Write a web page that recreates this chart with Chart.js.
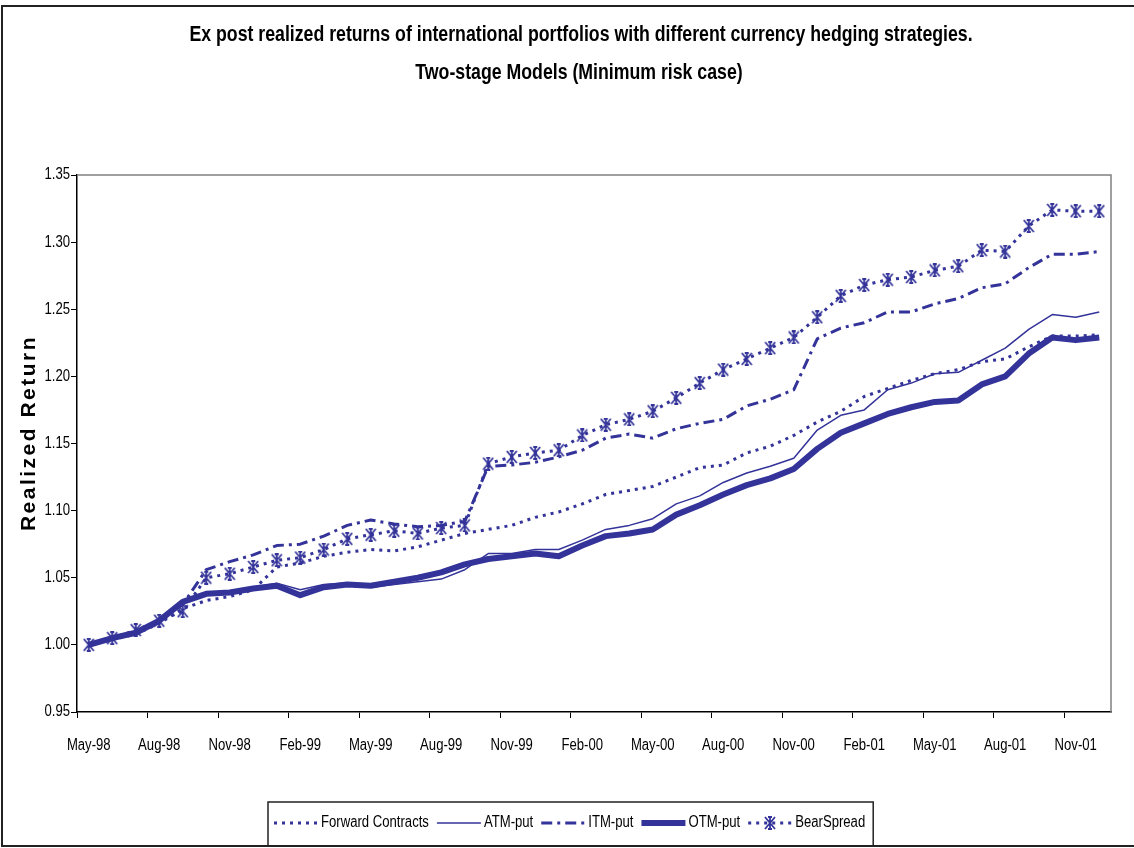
<!DOCTYPE html>
<html>
<head>
<meta charset="utf-8">
<script src="https://cdn.jsdelivr.net/npm/chart.js@4.4.1/dist/chart.umd.min.js"></script>
<style>
  html, body { margin: 0; padding: 0; background: #fff; }
  canvas { display: block; }
</style>
</head>
<body>
<canvas id="chart" width="1134" height="848"></canvas>
<script>
// Monthly observation dates (category axis)
const months = [
  'May-98','Jun-98','Jul-98','Aug-98','Sep-98','Oct-98','Nov-98','Dec-98',
  'Jan-99','Feb-99','Mar-99','Apr-99','May-99','Jun-99','Jul-99','Aug-99','Sep-99','Oct-99','Nov-99','Dec-99',
  'Jan-00','Feb-00','Mar-00','Apr-00','May-00','Jun-00','Jul-00','Aug-00','Sep-00','Oct-00','Nov-00','Dec-00',
  'Jan-01','Feb-01','Mar-01','Apr-01','May-01','Jun-01','Jul-01','Aug-01','Sep-01','Oct-01','Nov-01','Dec-01'
];

// Value-axis ticks
const yTickValues = [0.95, 1.00, 1.05, 1.10, 1.15, 1.20, 1.25, 1.30, 1.35];

// Series names
const seriesNames = ['Forward Contracts', 'ATM-put', 'ITM-put', 'OTM-put', 'BearSpread'];

// Cumulative realized returns per hedging strategy
const forwardContracts = [1.000,1.004,1.008,1.016,1.027,1.033,1.036,1.041,1.058,1.061,
  1.066,1.069,1.071,1.070,1.073,1.078,1.083,1.086,1.089,1.095,
  1.099,1.105,1.112,1.115,1.118,1.125,1.132,1.134,1.143,1.148,
  1.156,1.166,1.174,1.185,1.191,1.197,1.202,1.205,1.211,1.213,
  1.222,1.230,1.230,1.231];
const atmPut = [1.000,1.005,1.009,1.018,1.032,1.039,1.040,1.043,1.046,1.041,
  1.045,1.046,1.043,1.045,1.047,1.049,1.056,1.068,1.068,1.071,
  1.071,1.078,1.086,1.089,1.094,1.105,1.111,1.121,1.128,1.133,
  1.139,1.160,1.171,1.175,1.190,1.195,1.202,1.203,1.212,1.221,
  1.235,1.246,1.244,1.248];
const itmPut = [1.000,1.005,1.010,1.018,1.030,1.056,1.062,1.067,1.074,1.075,
  1.081,1.089,1.093,1.090,1.088,1.089,1.092,1.133,1.134,1.136,
  1.140,1.145,1.154,1.157,1.154,1.161,1.165,1.168,1.178,1.183,
  1.190,1.228,1.236,1.240,1.248,1.248,1.254,1.258,1.266,1.269,
  1.281,1.291,1.291,1.293];
const otmPut = [1.000,1.005,1.009,1.018,1.032,1.038,1.039,1.042,1.044,1.037,
  1.043,1.045,1.044,1.047,1.050,1.054,1.060,1.064,1.066,1.068,
  1.066,1.074,1.081,1.083,1.086,1.097,1.104,1.112,1.119,1.124,
  1.131,1.146,1.158,1.165,1.172,1.177,1.181,1.182,1.194,1.200,
  1.217,1.229,1.227,1.229];
const bearSpread = [1.000,1.005,1.011,1.018,1.025,1.050,1.053,1.058,1.063,1.065,
  1.071,1.079,1.082,1.085,1.083,1.087,1.089,1.135,1.140,1.143,
  1.145,1.156,1.164,1.168,1.174,1.184,1.195,1.205,1.213,1.221,
  1.229,1.244,1.260,1.268,1.272,1.274,1.279,1.282,1.294,1.293,
  1.312,1.324,1.323,1.323];

const titleLines = [
  'Ex post realized returns of international portfolios with different currency hedging strategies.',
  'Two-stage Models (Minimum risk case)'
];
const yTitle = 'Realized Return';

const INK = '#333399';

// Pick a condensed face when one is installed
function hasFont(name) {
  const g = document.createElement('canvas').getContext('2d');
  const s = 'May-98 Forward Contracts 1.35';
  g.font = '16px monospace';
  const a = g.measureText(s).width;
  g.font = '16px "' + name + '", monospace';
  return Math.abs(g.measureText(s).width - a) > 0.5;
}
const HAS_NARROW = hasFont('Liberation Sans Narrow');
const NARROW = HAS_NARROW ? '"Liberation Sans Narrow", "Liberation Sans", Arial, sans-serif'
                          : '"Liberation Sans", Arial, sans-serif';
const NARROW_SCALE = HAS_NARROW ? 1 : 0.82;

// Draw condensed text (real narrow face, or a horizontally squeezed regular face)
function narrowText(ctx, text, x, y, size, weight, align) {
  ctx.save();
  ctx.font = weight + ' ' + size + 'px ' + NARROW;
  ctx.textBaseline = 'middle';
  ctx.textAlign = align;
  ctx.translate(x, y);
  ctx.scale(NARROW_SCALE, 1);
  ctx.fillText(text, 0, 0);
  const w = ctx.measureText(text).width * NARROW_SCALE;
  ctx.restore();
  return w;
}

// Asterisk-style marker for the bear spread series
function makeStar() {
  const c = document.createElement('canvas');
  c.width = 12; c.height = 14;
  const g = c.getContext('2d');
  g.strokeStyle = INK;
  g.lineWidth = 1.8;
  g.beginPath();
  g.moveTo(1, 1); g.lineTo(11, 13);
  g.moveTo(11, 1); g.lineTo(1, 13);
  g.moveTo(6, 0); g.lineTo(6, 14);
  g.moveTo(4, 1); g.lineTo(8, 1);
  g.moveTo(4, 13); g.lineTo(8, 13);
  g.stroke();
  return c;
}
const starMarker = makeStar();

const TICK_FONT = 16;

const datasets = [
  { label: seriesNames[0], data: forwardContracts, borderWidth: 3, borderDash: [3, 5], order: 1 },
  { label: seriesNames[1], data: atmPut, borderWidth: 1.5, order: 3 },
  { label: seriesNames[2], data: itmPut, borderWidth: 3, borderDash: [11, 5, 3, 5], order: 2 },
  { label: seriesNames[3], data: otmPut, borderWidth: 6, order: 4 },
  { label: seriesNames[4], data: bearSpread, borderWidth: 3, borderDash: [3, 5], order: 0,
    pointStyle: starMarker, pointRadius: 6 }
].map(d => Object.assign({
  borderColor: INK, backgroundColor: INK, fill: false, tension: 0,
  pointRadius: 0, borderCapStyle: 'butt', borderJoinStyle: 'round'
}, d));

const decorations = {
  id: 'decorations',
  beforeDraw(chart) {
    const ctx = chart.ctx;
    ctx.save();
    ctx.fillStyle = '#fff';
    ctx.fillRect(0, 0, chart.width, chart.height);
    ctx.restore();
  },
  beforeDatasetsDraw(chart) {
    // grey plot-area frame on top and right
    const { ctx, chartArea: a } = chart;
    ctx.save();
    ctx.strokeStyle = '#808080';
    ctx.lineWidth = 1.5;
    ctx.beginPath();
    ctx.moveTo(a.left, a.top);
    ctx.lineTo(a.right, a.top);
    ctx.lineTo(a.right, a.bottom);
    ctx.stroke();
    ctx.restore();
  },
  afterDraw(chart) {
    const ctx = chart.ctx;
    const xs = chart.scales.x, ys = chart.scales.y;
    ctx.save();

    // tick labels in the condensed face
    ctx.fillStyle = '#000';
    months.forEach((m, i) => {
      if (i % 3 === 0) narrowText(ctx, m, xs.getPixelForValue(i), xs.top + 34, TICK_FONT, 'normal', 'center');
    });
    yTickValues.forEach(v => {
      narrowText(ctx, v.toFixed(2), ys.right - 7, ys.getPixelForValue(v), TICK_FONT, 'normal', 'right');
    });

    // outer chart frame
    ctx.strokeStyle = '#222';
    ctx.lineWidth = 2;
    ctx.strokeRect(2, 6, 1200, 840);

    // titles
    ctx.fillStyle = '#000';
    narrowText(ctx, titleLines[0], 581, 35, 21.6, 'bold', 'center');
    narrowText(ctx, titleLines[1], 579, 73, 21.6, 'bold', 'center');

    // value-axis title
    ctx.save();
    ctx.translate(29, 433);
    ctx.rotate(-Math.PI / 2);
    ctx.font = 'bold 21px "Liberation Sans", Arial, sans-serif';
    if ('letterSpacing' in ctx) ctx.letterSpacing = '2.5px';
    ctx.textAlign = 'center';
    ctx.textBaseline = 'middle';
    ctx.fillText(yTitle, 0, 0);
    ctx.restore();

    // legend
    const lx0 = 268, ly0 = 802, ly1 = 846, cy = 823;
    const sampleLen = 44;
    let x = lx0 + 6;
    chart.data.datasets.forEach(ds => {
      ctx.save();
      ctx.strokeStyle = ds.borderColor;
      ctx.lineWidth = ds.borderWidth;
      ctx.lineCap = 'butt';
      ctx.setLineDash(ds.borderDash || []);
      ctx.beginPath();
      ctx.moveTo(x, cy);
      ctx.lineTo(x + sampleLen, cy);
      ctx.stroke();
      ctx.restore();
      if (ds.pointStyle && typeof ds.pointStyle === 'object') {
        const m = ds.pointStyle;
        ctx.drawImage(m, Math.round(x + sampleLen / 2 - m.width / 2), Math.round(cy - m.height / 2));
      }
      ctx.fillStyle = '#000';
      const w = narrowText(ctx, ds.label, x + sampleLen + 3, cy, 16, 'normal', 'left');
      x += sampleLen + 3 + w + 8;
    });
    ctx.strokeStyle = '#222';
    ctx.lineWidth = 1.5;
    ctx.strokeRect(lx0, ly0, x - lx0, ly1 - ly0);
    ctx.restore();
  }
};

new Chart(document.getElementById('chart'), {
  type: 'line',
  data: { labels: months, datasets },
  options: {
    responsive: false,
    animation: false,
    events: [],
    layout: { padding: { top: 175, left: 0, right: 23, bottom: 86 } },
    plugins: { legend: { display: false }, title: { display: false }, tooltip: { enabled: false } },
    scales: {
      x: {
        type: 'category',
        offset: true,
        grid: {
          offset: true,
          drawOnChartArea: false,
          drawTicks: true,
          tickLength: 6,
          lineWidth: 1,
          color: c => (c.index !== undefined && c.index % 3 === 0) ? '#000' : 'rgba(0,0,0,0)',
          tickColor: c => (c.index !== undefined && c.index % 3 === 0) ? '#000' : 'rgba(0,0,0,0)'
        },
        border: { display: true, color: '#000', width: 1.5 },
        ticks: {
          autoSkip: false,
          maxRotation: 0,
          minRotation: 0,
          color: 'rgba(0,0,0,0)',
          font: { size: 12 },
          callback: (v, i) => (i % 3 === 0 ? months[i] : '')
        },
        afterFit: s => { s.height = 50; }
      },
      y: {
        min: 0.95,
        max: 1.35,
        afterBuildTicks: s => { s.ticks = yTickValues.map(v => ({ value: v })); },
        grid: { drawOnChartArea: false, drawTicks: true, tickLength: 6, tickColor: '#000' },
        border: { display: true, color: '#000', width: 1.5 },
        ticks: {
          color: 'rgba(0,0,0,0)',
          font: { size: 12 },
          callback: v => Number(v).toFixed(2)
        },
        afterFit: s => { s.width = 77; }
      }
    }
  },
  plugins: [decorations]
});
</script>
</body>
</html>
